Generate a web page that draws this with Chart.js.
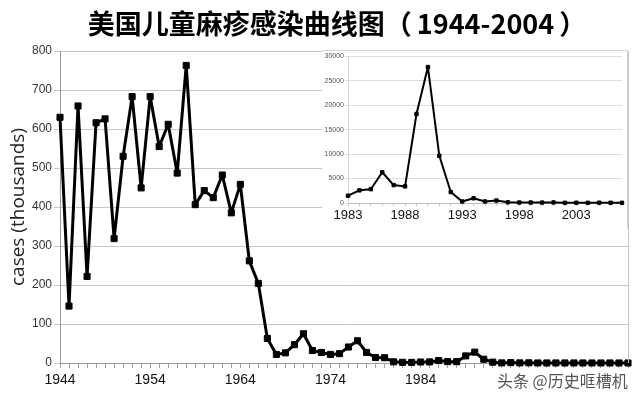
<!DOCTYPE html>
<html>
<head>
<meta charset="utf-8">
<script src="https://cdn.jsdelivr.net/npm/chart.js@4"></script>
<style>
  html, body { margin: 0; padding: 0; background: #fff; }
  #wrap { position: relative; width: 640px; height: 402px; overflow: hidden; }
  #main { position: absolute; left: 0; top: 0; }
  #title { position: absolute; left: 0; top: 5px; width: 674px; text-align: center;
           font-family: "Noto Sans CJK SC", sans-serif; font-weight: bold; font-size: 27px;
           color: #000; line-height: 36px; white-space: nowrap; }
  #title .yr { margin: 0 5px; }
  #insetBox { position: absolute; left: 322px; top: 50px; width: 305px; height: 178px;
              background: #fff; border-top: 1px solid #d4d4d4; border-right: 1px solid #d4d4d4; }
  #inset { display: block; }
  #mark { position: absolute; left: 497px; top: 370px; font-family: "Noto Sans CJK SC", sans-serif;
          font-size: 16px; color: #555; white-space: nowrap; line-height: 20px;
          text-shadow: 0 0 2px #fff; }
</style>
</head>
<body>
<div id="wrap">
  <canvas id="main" width="640" height="402"></canvas>
  <div id="title">美国儿童麻疹感染曲线图（<span class="yr">1944-2004</span>）</div>
  <div id="insetBox"><canvas id="inset" width="305" height="178"></canvas></div>
  <div id="mark">头条 @历史哐槽机</div>
</div>
<script>
// ---- data ----
const mainYears = [];
for (let y = 1944; y <= 2007; y++) mainYears.push(String(y));
// cases, thousands
const mainCases = [
  630, 146, 659, 222, 616, 626, 319, 530, 683, 449,
  683, 555, 612, 487, 763, 406, 442, 424, 482, 385,
  458, 262, 204, 63, 22, 26, 47, 75, 32, 27,
  22, 24, 41, 57, 27, 14, 13.5, 3, 1.7, 1.5,
  2.6, 2.8, 6.3, 3.7, 3.4, 18.2, 27.8, 9.6, 2.2, 0.3,
  1.0, 0.3, 0.5, 0.1, 0.1, 0.1, 0.1, 0.1, 0.05, 0.05,
  0.04, 0.07, 0.06, 0.04
];
const mainTickYears = ['1944', '1954', '1964', '1974', '1984'];
const mainYMax = 800;
const mainYStep = 100;
const yTitle = 'cases (thousands)';

const insetYears = [];
for (let y = 1983; y <= 2007; y++) insetYears.push(String(y));
// cases
const insetCases = [
  1497, 2587, 2822, 6282, 3655, 3396, 18193, 27786, 9643, 2237,
  312, 963, 309, 508, 138, 100, 100, 86, 116, 44,
  56, 37, 66, 55, 43
];
const insetTickYears = ['1983', '1988', '1993', '1998', '2003'];
const insetYMax = 30000;
const insetYStep = 5000;

// ---- plugin: right border line of the main plot ----
const rightBorder = {
  id: 'rightBorder',
  afterDraw(chart, args, opts) {
    const a = chart.chartArea, ctx = chart.ctx;
    ctx.save();
    ctx.strokeStyle = opts.color || '#bbb';
    ctx.lineWidth = 1;
    ctx.beginPath();
    ctx.moveTo(Math.round(a.right) + 0.5, a.top);
    ctx.lineTo(Math.round(a.right) + 0.5, a.bottom);
    ctx.stroke();
    ctx.restore();
  }
};

// ---- main chart ----
new Chart(document.getElementById('main'), {
  type: 'line',
  data: {
    labels: mainYears,
    datasets: [{
      data: mainCases,
      borderColor: '#000',
      backgroundColor: '#000',
      borderWidth: 3,
      borderJoinStyle: 'round',
      pointStyle: 'rect',
      pointRadius: 4.3,
      pointBorderWidth: 1,
      pointBackgroundColor: '#000',
      pointBorderColor: '#000',
      tension: 0,
      clip: false
    }]
  },
  options: {
    responsive: false,
    animation: false,
    devicePixelRatio: 1,
    layout: { padding: { top: 51, right: 12, left: 0, bottom: 0 } },
    plugins: { legend: { display: false }, tooltip: { enabled: false }, title: { display: false },
               rightBorder: { color: '#c4c4c4' } },
    scales: {
      x: {
        type: 'category',
        offset: false,
        grid: { drawOnChartArea: false, drawTicks: true, tickLength: 5, color: '#a0a0a0' },
        border: { color: '#9a9a9a' },
        ticks: {
          autoSkip: false, maxRotation: 0, minRotation: 0, padding: 4,
          color: '#111', font: { family: 'Liberation Sans', size: 14 },
          callback: function (v) {
            const l = this.getLabelForValue(v);
            return mainTickYears.includes(l) ? l : '';
          }
        },
        afterFit: s => { s.height = 39; }
      },
      y: {
        min: 0, max: mainYMax,
        grid: { color: '#c6c6c6', tickLength: 6, lineWidth: 1 },
        border: { color: '#9a9a9a' },
        ticks: { stepSize: mainYStep, padding: 2, color: '#333',
                 font: { family: 'Liberation Sans', size: 12 } },
        title: { display: true, text: yTitle, color: '#222',
                 font: { family: 'Open Sans', size: 19 }, padding: { top: 7, bottom: 0 } },
        afterFit: s => { s.width = 60; }
      }
    }
  },
  plugins: [rightBorder]
});

// ---- inset chart ----
new Chart(document.getElementById('inset'), {
  type: 'line',
  data: {
    labels: insetYears,
    datasets: [{
      data: insetCases,
      borderColor: '#000',
      backgroundColor: '#000',
      borderWidth: 2,
      borderJoinStyle: 'round',
      pointStyle: 'rect',
      pointRadius: 2.4,
      pointBorderWidth: 1,
      pointBackgroundColor: '#000',
      pointBorderColor: '#000',
      tension: 0,
      clip: false
    }]
  },
  options: {
    responsive: false,
    animation: false,
    devicePixelRatio: 1,
    layout: { padding: { top: 4, right: 1, left: 0, bottom: 0 } },
    plugins: { legend: { display: false }, tooltip: { enabled: false } },
    scales: {
      x: {
        type: 'category',
        offset: false,
        grid: { drawOnChartArea: false, drawTicks: true, tickLength: 3, color: '#c8c8c8' },
        border: { color: '#bdbdbd' },
        ticks: {
          autoSkip: false, maxRotation: 0, minRotation: 0, padding: 2,
          color: '#111', font: { family: 'Liberation Sans', size: 13 },
          callback: function (v) {
            const l = this.getLabelForValue(v);
            return insetTickYears.includes(l) ? l : '';
          }
        },
        afterFit: s => { s.height = 26; }
      },
      y: {
        min: 0, max: insetYMax,
        grid: { color: '#dcdcdc', tickLength: 3 },
        border: { color: '#c9d3dd' },
        ticks: { stepSize: insetYStep, padding: 1, color: '#555',
                 font: { family: 'Liberation Sans', size: 7 },
                 callback: v => String(v) },
        afterFit: s => { s.width = 26; }
      }
    }
  }
});
</script>
</body>
</html>
